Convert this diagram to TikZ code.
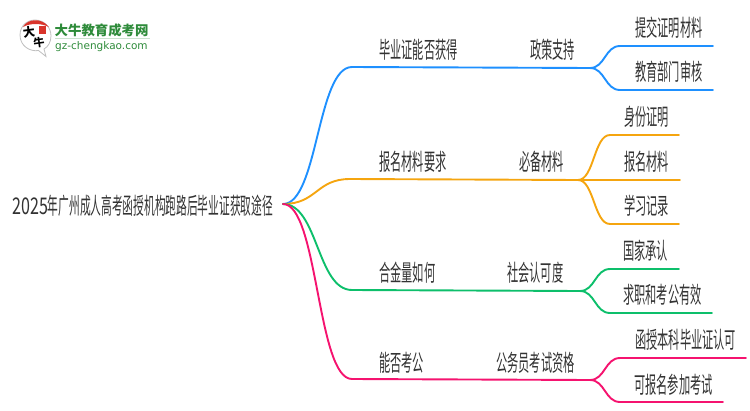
\documentclass[tikz,border=0pt]{standalone}
\usepackage{fontspec}
\newfontfamily\cnfont[FakeStretch=0.487]{Noto Sans CJK SC}
\newfontfamily\rootfont[FakeStretch=0.466]{Noto Sans CJK SC}
\newfontfamily\numfont[FakeStretch=0.7]{Noto Sans CJK SC}
\newfontfamily\logofont{Noto Sans CJK SC}
\newfontfamily\latinfont{DejaVu Sans}
\definecolor{bluebranch}{HTML}{1E90FF}
\definecolor{orangebranch}{HTML}{F5A50F}
\definecolor{greenbranch}{HTML}{0DBF6B}
\definecolor{pinkbranch}{HTML}{F5136F}
\definecolor{labeltext}{HTML}{333333}
\definecolor{logogreen}{HTML}{2E8B3A}
\definecolor{logored}{HTML}{D9342B}
\tikzset{
    lab/.style={anchor=base west, inner sep=0pt, text=labeltext, font=\cnfont\fontsize{23}{23}\selectfont},
    branch/.style={line width=1.9pt, line cap=round, line join=round},
}
\newcommand{\scurve}[2]{.. controls +(#1,0) and +(-#1,0) .. (#2)}
\begin{document}
\begin{tikzpicture}[x=1pt, y=-1pt]
    \useasboundingbox (0,0) rectangle (750,410);
    % Logo
    \fill[white, draw=black!25, line width=0.8pt] (46,56.5) -- (38.5,50.5) .. controls (30,52) and (20,46) .. (20,35) .. controls (20,25) and (28,20) .. (35,20) .. controls (44,20) and (51,27) .. (51,36) .. controls (51,42) and (48,47) .. (44,49) -- cycle;
    \fill[logored] (23,27) .. controls (27,19) and (41,17) .. (49,27) .. controls (41,23) and (30,23) .. (23,27) -- cycle;
    \fill[logored] (39,26) rectangle (46,34);
    \node[inner sep=0pt, rotate=8, font=\logofont\bfseries\fontsize{12}{12}\selectfont] (logoda) at (29,32.5) {大};
    \node[inner sep=0pt, rotate=8, font=\logofont\bfseries\fontsize{11}{11}\selectfont] (logoniu) at (39,43) {牛};
    \node[anchor=base west, inner sep=0pt, text=logogreen, font=\logofont\bfseries\fontsize{13.4}{14}\selectfont] (logoname) at (54.5,35) {大牛教育成考网};
    \draw[logogreen!25, line width=0.8pt] (55,38.5) -- (150,38.5);
    \node[anchor=base west, inner sep=0pt, text=logogreen, font=\latinfont\fontsize{10.5}{11}\selectfont] (logourl) at (55,49) {gz-chengkao.com};
    % Wurzel
    \node[lab, font=\rootfont\fontsize{23}{23}\selectfont] (root) at (12,214.5) {{\numfont 2025}年广州成人高考函授机构跑路后毕业证获取途径};
    \coordinate (rootout) at (283,204);
    % Erste Ebene
    \node[lab] (diploma) at (379,58.5) {毕业证能否获得};
    \node[lab] (material) at (379,170) {报名材料要求};
    \node[lab] (value) at (379,281) {合金量如何};
    \node[lab] (exam) at (379,371.5) {能否考公};
    % Zweite Ebene
    \node[lab] (policy) at (530,58.5) {政策支持};
    \node[lab] (needed) at (519,170.5) {必备材料};
    \node[lab] (society) at (507,281.5) {社会认可度};
    \node[lab] (civil) at (496,371.5) {公务员考试资格};
    % Blaetter
    \node[lab] (submit) at (635,36) {提交证明材料};
    \node[lab] (review) at (635,80.5) {教育部门审核};
    \node[lab] (idcard) at (624,125.5) {身份证明};
    \node[lab] (form) at (624,170.5) {报名材料};
    \node[lab] (record) at (624,214.5) {学习记录};
    \node[lab] (state) at (623,259.5) {国家承认};
    \node[lab] (job) at (623,303.5) {求职和考公有效};
    \node[lab] (degree) at (635,348.5) {函授本科毕业证认可};
    \node[lab] (apply) at (634,393.5) {可报名参加考试};
    % Knoten der Linien
    \coordinate (hubblue) at (590,68);
    \coordinate (huborange) at (578,180);
    \coordinate (hubgreen) at (580,291);
    \coordinate (hubpink) at (590,380);
    \coordinate (elbowblue) at (352,67);
    \coordinate (elboworange) at (350,179);
    \coordinate (elbowgreen) at (352,290);
    \coordinate (elbowpink) at (352,379);
    \coordinate (submitin) at (620,46);
    \coordinate (submitout) at (713,46);
    \coordinate (reviewin) at (620,90);
    \coordinate (reviewout) at (713,90);
    \coordinate (idcardin) at (610,135);
    \coordinate (idcardout) at (679,135);
    \coordinate (formout) at (680,180);
    \coordinate (recordin) at (610,224);
    \coordinate (recordout) at (679,224);
    \coordinate (statein) at (610,269);
    \coordinate (stateout) at (679,269);
    \coordinate (jobin) at (610,313);
    \coordinate (jobout) at (712,313);
    \coordinate (degreein) at (620,358);
    \coordinate (degreeout) at (746,358);
    \coordinate (applyin) at (620,402);
    \coordinate (applyout) at (723,402);
    % Blau
    \draw[branch, bluebranch] (rootout) \scurve{35}{elbowblue} -- (hubblue);
    \draw[branch, bluebranch] (hubblue) \scurve{15}{submitin} -- (submitout);
    \draw[branch, bluebranch] (hubblue) \scurve{15}{reviewin} -- (reviewout);
    % Orange
    \draw[branch, orangebranch] (rootout) \scurve{34}{elboworange} -- (huborange);
    \draw[branch, orangebranch] (huborange) \scurve{16}{idcardin} -- (idcardout);
    \draw[branch, orangebranch] (huborange) -- (formout);
    \draw[branch, orangebranch] (huborange) \scurve{16}{recordin} -- (recordout);
    % Gruen
    \draw[branch, greenbranch] (rootout) \scurve{35}{elbowgreen} -- (hubgreen);
    \draw[branch, greenbranch] (hubgreen) \scurve{15}{statein} -- (stateout);
    \draw[branch, greenbranch] (hubgreen) \scurve{15}{jobin} -- (jobout);
    % Pink
    \draw[branch, pinkbranch] (rootout) \scurve{35}{elbowpink} -- (hubpink);
    \draw[branch, pinkbranch] (hubpink) \scurve{15}{degreein} -- (degreeout);
    \draw[branch, pinkbranch] (hubpink) \scurve{15}{applyin} -- (applyout);
\end{tikzpicture}
\end{document}
